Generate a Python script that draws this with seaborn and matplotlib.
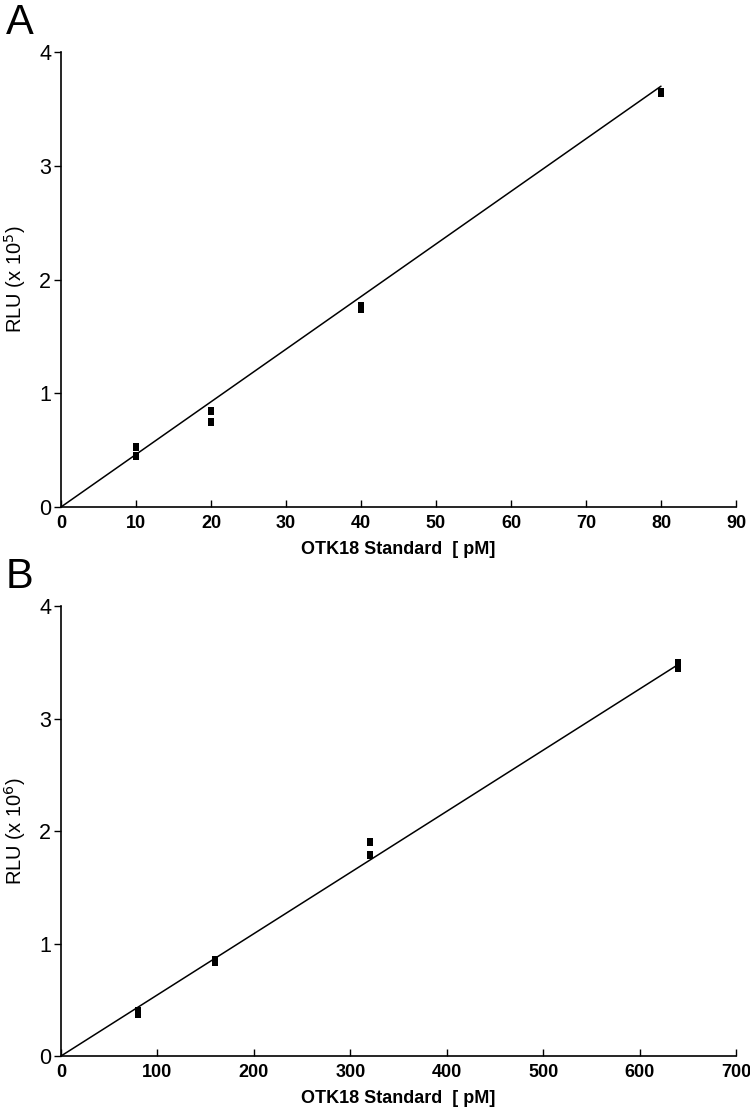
import numpy as np
import pandas as pd
import matplotlib
matplotlib.use("Agg")
import matplotlib.pyplot as plt
import seaborn as sns

sns.set_theme(style="white")
plt.rcParams['font.family'] = ['Liberation Sans', 'DejaVu Sans']
plt.rcParams.update({'text.color': 'black', 'axes.labelcolor': 'black',
                     'xtick.color': 'black', 'ytick.color': 'black'})

# Panel A data
a_x = [10, 10, 20, 20, 40, 40, 80, 80]
a_y = [0.53, 0.45, 0.84, 0.75, 1.77, 1.74, 3.65, 3.64]
a_fit_x = [0, 80]
a_fit_y = [0, 3.70]
a_xticks = [0, 10, 20, 30, 40, 50, 60, 70, 80, 90]
a_yticks = [0, 1, 2, 3, 4]

# Panel B data
b_x = [80, 80, 160, 160, 320, 320, 640, 640]
b_y = [0.40, 0.37, 0.85, 0.84, 1.90, 1.79, 3.49, 3.45]
b_fit_x = [0, 640]
b_fit_y = [0, 3.48]
b_xticks = [0, 100, 200, 300, 400, 500, 600, 700]
b_yticks = [0, 1, 2, 3, 4]

rect = [(-0.32, -0.5), (0.32, -0.5), (0.32, 0.5), (-0.32, 0.5)]

fig = plt.figure(figsize=(7.5, 11.08), dpi=100)
axA = fig.add_axes([0.0813, 0.5424, 0.9, 0.4106])
axB = fig.add_axes([0.0813, 0.0469, 0.9, 0.4061])

def panel(ax, x, y, fx, fy, xt, yt, exp, letter):
    sns.lineplot(x=fx, y=fy, ax=ax, color='black', linewidth=1.1)
    sns.scatterplot(x=x, y=y, ax=ax, marker=rect, s=34, color='black',
                    edgecolor='black', linewidth=0)
    ax.set_xlim(xt[0], xt[-1])
    ax.set_ylim(yt[0], yt[-1])
    ax.set_xticks(xt)
    ax.set_yticks(yt)
    ax.set_xticklabels([str(v) for v in xt], fontsize=13, fontweight='bold')
    ax.set_yticklabels([str(v) for v in yt], fontsize=15.5)
    ax.tick_params(axis='x', direction='in', length=5, width=1, color='black', pad=6)
    ax.tick_params(axis='y', direction='out', length=5, width=1, color='black', pad=2, left=True)
    ax.tick_params(axis='x', bottom=True)
    for s in ['top', 'right']:
        ax.spines[s].set_visible(False)
    for s in ['left', 'bottom']:
        ax.spines[s].set_color('black')
        ax.spines[s].set_linewidth(1.2)
    ax.set_xlabel('OTK18 Standard  [ pM]', fontsize=13, fontweight='bold', labelpad=6)
    ax.set_ylabel('RLU (x 10$^{%d}$)' % exp, fontsize=14.5, labelpad=8)
    ax.text(-0.082, 1.065, letter, transform=ax.transAxes, fontsize=30,
            ha='left', va='center')

panel(axA, a_x, a_y, a_fit_x, a_fit_y, a_xticks, a_yticks, 5, 'A')
panel(axB, b_x, b_y, b_fit_x, b_fit_y, b_xticks, b_yticks, 6, 'B')

fig.savefig('out.png', dpi=100)
